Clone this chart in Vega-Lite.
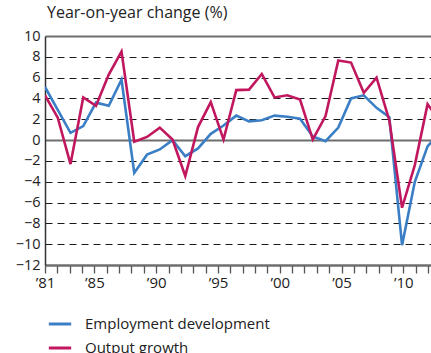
{
  "$schema": "https://vega.github.io/schema/vega-lite/v6.json",
  "width": 386,
  "height": 229,
  "autosize": {"type": "none"},
  "padding": {"left": 45, "top": 36, "right": 0, "bottom": 88},
  "background": "white",
  "config": {
    "font": "Open Sans",
    "view": {"stroke": null}
  },
  "title": {
    "text": "Year-on-year change (%)",
    "anchor": "start",
    "frame": "group",
    "fontSize": 16,
    "fontWeight": "normal",
    "color": "#222222",
    "offset": 7,
    "dx": 2
  },
  "data": {
    "values": [
      {"year": 1981, "Employment development": 5.1, "Output growth": 4.3},
      {"year": 1982, "Employment development": 2.9, "Output growth": 2.15},
      {"year": 1983, "Employment development": 0.7, "Output growth": -2.3},
      {"year": 1984, "Employment development": 1.35, "Output growth": 4.1},
      {"year": 1985, "Employment development": 3.6, "Output growth": 3.3},
      {"year": 1986, "Employment development": 3.3, "Output growth": 6.3},
      {"year": 1987, "Employment development": 5.8, "Output growth": 8.5},
      {"year": 1988, "Employment development": -3.15, "Output growth": -0.15},
      {"year": 1989, "Employment development": -1.4, "Output growth": 0.3},
      {"year": 1990, "Employment development": -0.9, "Output growth": 1.2},
      {"year": 1991, "Employment development": 0.0, "Output growth": 0.05},
      {"year": 1992, "Employment development": -1.55, "Output growth": -3.45},
      {"year": 1993, "Employment development": -0.8, "Output growth": 1.25},
      {"year": 1994, "Employment development": 0.6, "Output growth": 3.65},
      {"year": 1995, "Employment development": 1.4, "Output growth": 0.05},
      {"year": 1996, "Employment development": 2.35, "Output growth": 4.8},
      {"year": 1997, "Employment development": 1.8, "Output growth": 4.85},
      {"year": 1998, "Employment development": 1.9, "Output growth": 6.35},
      {"year": 1999, "Employment development": 2.35, "Output growth": 4.1},
      {"year": 2000, "Employment development": 2.25, "Output growth": 4.3},
      {"year": 2001, "Employment development": 2.05, "Output growth": 3.9},
      {"year": 2002, "Employment development": 0.35, "Output growth": 0.05},
      {"year": 2003, "Employment development": -0.1, "Output growth": 2.3},
      {"year": 2004, "Employment development": 1.2, "Output growth": 7.65},
      {"year": 2005, "Employment development": 4.0, "Output growth": 7.45},
      {"year": 2006, "Employment development": 4.3, "Output growth": 4.55},
      {"year": 2007, "Employment development": 3.1, "Output growth": 6.0},
      {"year": 2008, "Employment development": 2.2, "Output growth": 1.9},
      {"year": 2009, "Employment development": -10.1, "Output growth": -6.5},
      {"year": 2010, "Employment development": -4.0, "Output growth": -2.4},
      {"year": 2011, "Employment development": -0.6, "Output growth": 3.45},
      {"year": 2012, "Employment development": 0.8, "Output growth": 1.8}
    ]
  },
  "transform": [
    {"fold": ["Employment development", "Output growth"], "as": ["series", "value"]}
  ],
  "layer": [
    {
      "mark": {"type": "line", "strokeWidth": 2.6, "clip": true},
      "encoding": {
        "x": {
          "field": "year",
          "type": "quantitative",
          "scale": {"domain": [1981, 2011.27], "nice": false, "zero": false},
          "axis": null
        },
        "y": {
          "field": "value",
          "type": "quantitative",
          "title": null,
          "scale": {"domain": [-12, 10], "nice": false, "zero": false},
          "axis": {
            "values": [-12, -10, -8, -6, -4, -2, 0, 2, 4, 6, 8, 10],
            "ticks": false,
            "domain": true,
            "domainColor": "#333333",
            "domainWidth": 1.5,
            "labelFontSize": 14.5,
            "labelColor": "#222222",
            "labelPadding": 5,
            "grid": true,
            "gridColor": {"condition": {"test": "datum.value == 0 || datum.value == 10 || datum.value == -12", "value": "#6e6e6e"}, "value": "#1a1a1a"},
            "gridWidth": {"condition": {"test": "datum.value == 0 || datum.value == 10 || datum.value == -12", "value": 2}, "value": 1.2},
            "gridDash": {"condition": {"test": "datum.value == 0 || datum.value == 10 || datum.value == -12", "value": []}, "value": [7, 5]}
          }
        },
        "color": {
          "field": "series",
          "type": "nominal",
          "scale": {
            "domain": ["Employment development", "Output growth"],
            "range": ["#3a7ec6", "#c0175e"]
          },
          "legend": {
            "orient": "none",
            "legendX": 2,
            "legendY": 275,
            "direction": "vertical",
            "title": null,
            "symbolType": "stroke",
            "symbolStrokeWidth": 3,
            "symbolSize": 500,
            "labelFontSize": 15,
            "labelColor": "#222222",
            "labelOffset": 12,
            "labelLimit": 0,
            "rowPadding": 3
          }
        }
      }
    },
    {
      "mark": {"type": "point", "opacity": 0},
      "encoding": {
        "x": {
          "field": "year",
          "type": "quantitative",
          "title": null,
          "scale": {"domain": [1981, 2012.24], "nice": false, "zero": false},
          "axis": {
            "orient": "bottom",
            "values": [1981, 1982, 1983, 1984, 1985, 1986, 1987, 1988, 1989, 1990, 1991, 1992, 1993, 1994, 1995, 1996, 1997, 1998, 1999, 2000, 2001, 2002, 2003, 2004, 2005, 2006, 2007, 2008, 2009, 2010, 2011, 2012],
            "labelExpr": "indexof([1981, 1985, 1990, 1995, 2000, 2005, 2010], datum.value) >= 0 ? '’' + substring(toString(datum.value), 2, 4) : ''",
            "grid": false,
            "domain": true,
            "domainColor": "#6e6e6e",
            "domainWidth": 2,
            "ticks": true,
            "tickColor": "#555555",
            "tickWidth": 1.3,
            "tickSize": 8,
            "labelFontSize": 15,
            "labelColor": "#222222",
            "labelPadding": 2,
            "labelDx": 6,
            "labelOverlap": false,
            "labelFlush": false,
            "labelBound": false
          }
        }
      }
    }
  ],
  "resolve": {"scale": {"x": "independent"}, "axis": {"x": "independent"}}
}
